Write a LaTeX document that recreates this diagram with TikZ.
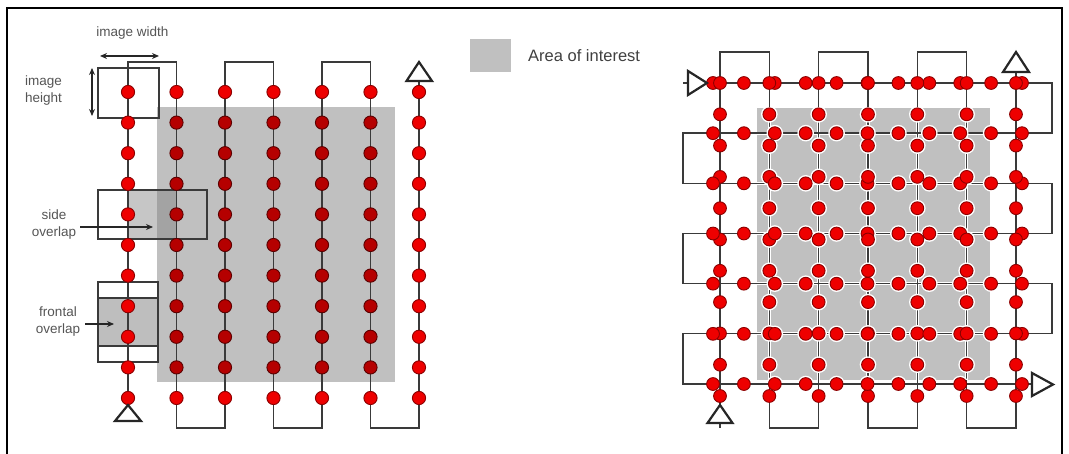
\documentclass[tikz,border=0pt]{standalone}
\usepackage{fontspec}
\setmainfont{Liberation Sans}
\usetikzlibrary{arrows.meta}
\definecolor{aoi}{HTML}{C0C0C0}
\definecolor{flight}{HTML}{3A3A3A}
\definecolor{dotred}{HTML}{EE0000}
\definecolor{dotrim}{HTML}{8B0000}
\definecolor{dotdark}{HTML}{B50000}
\definecolor{dotdarkrim}{HTML}{5A0000}
\definecolor{labelgray}{HTML}{555555}
\definecolor{ovlight}{HTML}{C6C6C6}
\definecolor{ovdark}{HTML}{A3A3A3}
\definecolor{frontgray}{HTML}{BEBEBE}
\tikzset{
  flightline/.style={draw=flight, line width=1.4pt, line join=miter},
  halo/.style={draw=white, line width=3.2pt},
  footbox/.style={draw=flight, line width=1.3pt},
  startend/.style={draw=black!85, line width=2.2pt, fill=white, line join=miter},
  lbl/.style={text=labelgray, font=\fontsize{13.5}{17}\selectfont, inner sep=0pt},
  dimarrow/.style={draw=black!85, line width=1.3pt, {Stealth[length=7pt,width=6pt]}-{Stealth[length=7pt,width=6pt]}},
  ptrarrow/.style={draw=black!85, line width=1.1pt, -{Stealth[length=7pt,width=6pt]}},
  reddot/.style={fill=dotred, draw=dotrim, line width=0.9pt},
  darkdot/.style={fill=dotdark, draw=dotdarkrim, line width=0.9pt}
}
\begin{document}
\begin{tikzpicture}[x=1pt, y=-1pt]
\useasboundingbox (0,0) rectangle (1069,454);
% frame
\draw[line width=1.4pt, black] (7,454) -- (7,8) -- (1062,8) -- (1062,454);

% ================= LEFT DIAGRAM =================
\fill[aoi] (157,107) rectangle (395,382);
% side overlap
\fill[ovlight] (129,190) rectangle (157,239);
\fill[ovdark] (157,190) rectangle (177,239);
\draw[footbox] (98,190) rectangle (207,239);
% frontal overlap
\fill[frontgray] (98,298) rectangle (158,346);
\draw[footbox] (98,282) rectangle (158,362);
\draw[footbox] (98,298) -- (158,298);
\draw[footbox] (98,346) -- (158,346);
% image footprint
\draw[footbox] (98,68) rectangle (159,118);
% flight line
\draw[flightline] (128,405) -- (128,62) -- (176.5,62) -- (176.5,428) -- (225,428)
  -- (225,62) -- (273.5,62) -- (273.5,428) -- (322,428) -- (322,62)
  -- (370.5,62) -- (370.5,428) -- (419,428) -- (419,81);
% dots
\foreach \i in {0,...,6}{
  \foreach \j in {0,...,10}{
    \pgfmathsetmacro\xx{128+48.5*\i}
    \pgfmathsetmacro\yy{92+30.6*\j}
    \pgfmathtruncatemacro\inside{(\i>0)*(\i<6)*(\j>0)*(\j<10)}
    \ifnum\inside=1
      \filldraw[darkdot] (\xx,\yy) circle (6.6);
    \else
      \filldraw[reddot] (\xx,\yy) circle (6.6);
    \fi
  }
}
% start / end triangles
\draw[startend] (115,421) -- (141,421) -- (128,405) -- cycle;
\draw[startend] (406.5,81) -- (432,81) -- (419,62) -- cycle;
% dimension arrows
\coordinate (wA) at (100,56);
\coordinate (wB) at (159,56);
\draw[dimarrow] (wA) -- (wB);
\coordinate (hA) at (92,68);
\coordinate (hB) at (92,116);
\draw[dimarrow] (hA) -- (hB);
\coordinate (sA) at (80,227);
\coordinate (sB) at (153,227);
\draw[ptrarrow] (sA) -- (sB);
\coordinate (fA) at (85,324);
\coordinate (fB) at (114,324);
\draw[ptrarrow] (fA) -- (fB);
% labels
\node[lbl] (tw) at (132.5,33) {image width};
\node[lbl, align=left, anchor=west] (th) at (25,90.5) {image\\height};
\node[lbl, align=center] (ts) at (54,225) {side\\overlap};
\node[lbl, align=center] (tf) at (58,322) {frontal\\overlap};

% ================= LEGEND =================
\fill[aoi] (470,39) rectangle (511,72);
\node[text=black!75, font=\fontsize{16.5}{20}\selectfont, anchor=west, inner sep=0pt] (legtxt) at (528,56) {Area of interest};

% ================= RIGHT DIAGRAM =================
\fill[aoi] (757,108) rectangle (990,380);
\def\myHpath{(707,83) -- (1052,83) -- (1052,133.2) -- (683,133.2) -- (683,183.3) -- (1052,183.3)
  -- (1052,233.5) -- (683,233.5) -- (683,283.7) -- (1052,283.7) -- (1052,333.8)
  -- (683,333.8) -- (683,384) -- (1032,384)}
\def\myVpath{(720,405) -- (720,52) -- (769.3,52) -- (769.3,428) -- (818.7,428) -- (818.7,52)
  -- (868,52) -- (868,428) -- (917.3,428) -- (917.3,52) -- (966.7,52) -- (966.7,428)
  -- (1016,428) -- (1016,72)}
\begin{scope}
\clip (757,108) rectangle (990,380);
\draw[halo] \myHpath;
\draw[halo] \myVpath;
\end{scope}
\draw[flightline] \myHpath;
\draw[flightline] \myVpath;
\draw[flightline] (683,83) -- (688,83);
\draw[flightline] (720,423) -- (720,428);
% dot halos (visible on the grey area only)
\begin{scope}
\clip (757,108) rectangle (990,380);
\foreach \r in {0,...,6}{
  \foreach \k in {0,...,10}{
    \pgfmathsetmacro\xh{713+30.9*\k}
    \pgfmathsetmacro\yh{83+50.17*\r}
    \fill[white] (\xh,\yh) circle (8.3);
    \pgfmathsetmacro\xv{720+49.33*\r}
    \pgfmathsetmacro\yv{83+31.3*\k}
    \fill[white] (\xv,\yv) circle (8.3);
  }
}
\end{scope}
% dots
\foreach \r in {0,...,6}{
  \foreach \k in {0,...,10}{
    \pgfmathsetmacro\xh{713+30.9*\k}
    \pgfmathsetmacro\yh{83+50.17*\r}
    \filldraw[reddot] (\xh,\yh) circle (6.4);
    \pgfmathsetmacro\xv{720+49.33*\r}
    \pgfmathsetmacro\yv{83+31.3*\k}
    \filldraw[reddot] (\xv,\yv) circle (6.4);
  }
}
% triangles
\draw[startend] (688,71) -- (688,95) -- (707,83) -- cycle;
\draw[startend] (707.5,423) -- (732.5,423) -- (720,405) -- cycle;
\draw[startend] (1003,72) -- (1029,72) -- (1016,52) -- cycle;
\draw[startend] (1032,373) -- (1032,396) -- (1053,384.5) -- cycle;
\end{tikzpicture}
\end{document}
